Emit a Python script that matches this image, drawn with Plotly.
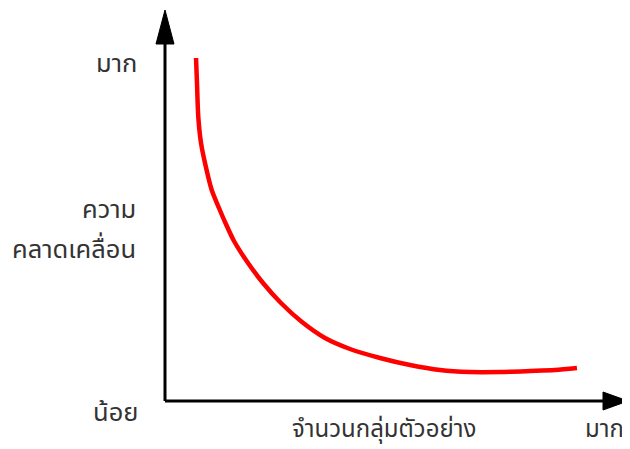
import plotly.graph_objects as go

# Data (arbitrary units: sample size vs error)
sample_size = [6.70, 6.91, 7.19, 7.78, 8.64, 10.09, 11.66, 12.96, 14.90, 17.93, 21.17, 25.05,
               29.59, 34.56, 39.96, 46.44, 52.92, 59.40, 65.87, 72.35, 78.83, 84.23, 88.98]
error = [87.72, 81.33, 72.63, 65.98, 60.87, 53.96, 49.36, 45.78, 40.92, 35.29, 30.18, 25.06,
         20.20, 16.11, 13.30, 11.00, 9.21, 7.93, 7.42, 7.42, 7.67, 7.93, 8.44]

y_labels = ["มาก", "ความ", "คลาดเคลื่อน", "น้อย"]
x_labels = ["จำนวนกลุ่มตัวอย่าง", "มาก"]

OFF = 8  # browser body margin
W, H = 630 - OFF, 449 - OFF
L, R, T, B = 165 - OFF, 2, 10 - OFF, 48
PW, PH = W - L - R, H - T - B

def px(x):
    return (x - OFF - L) / PW

def py(y):
    return (T + PH - (y - OFF)) / PH

FONT = "Tahoma, Noto Sans Thai, Noto Sans, sans-serif"

fig = go.Figure()
fig.add_trace(go.Scatter(x=sample_size, y=error, mode="lines",
                         line=dict(color="#ff0000", width=4.5, shape="spline", smoothing=0.8),
                         hoverinfo="skip", showlegend=False))

shapes = [
    dict(type="line", xref="paper", yref="paper", x0=0, y0=0, x1=0, y1=py(40),
         line=dict(color="black", width=3)),
    dict(type="line", xref="paper", yref="paper", x0=0, y0=0, x1=px(606), y1=0,
         line=dict(color="black", width=3)),
    dict(type="path", xref="paper", yref="paper", fillcolor="black", line=dict(color="black", width=1),
         path=f"M {px(165)} {py(10)} L {px(156)} {py(44)} L {px(174)} {py(44)} Z"),
    dict(type="path", xref="paper", yref="paper", fillcolor="black", line=dict(color="black", width=1),
         path=f"M {px(628)} {py(401)} L {px(603)} {py(392)} L {px(603)} {py(410)} Z"),
]

tc = "#333333"
fs = 25.5
fsb = 24
annotations = [
    dict(x=px(139), y=py(64), text=y_labels[0], xanchor="right", yanchor="middle", size=fs),
    dict(x=px(138), y=py(210), text=y_labels[1], xanchor="right", yanchor="middle", size=fs),
    dict(x=px(138), y=py(250), text=y_labels[2], xanchor="right", yanchor="middle", size=fs),
    dict(x=px(140), y=py(413), text=y_labels[3], xanchor="right", yanchor="middle", size=fs),
    dict(x=px(384), y=py(430), text=x_labels[0], xanchor="center", yanchor="middle", size=fsb),
    dict(x=px(626), y=py(430), text=x_labels[1], xanchor="right", yanchor="middle", size=fsb),
]
for a in annotations:
    s = a.pop("size")
    a.update(xref="paper", yref="paper", showarrow=False, font=dict(family=FONT, size=s, color=tc))

fig.update_layout(
    width=W, height=H,
    margin=dict(l=L, r=R, t=T, b=B),
    paper_bgcolor="white", plot_bgcolor="white",
    xaxis=dict(range=[0, 100], visible=False),
    yaxis=dict(range=[0, 100], visible=False),
    shapes=shapes, annotations=annotations,
    showlegend=False,
)
fig.write_html("out.html")
